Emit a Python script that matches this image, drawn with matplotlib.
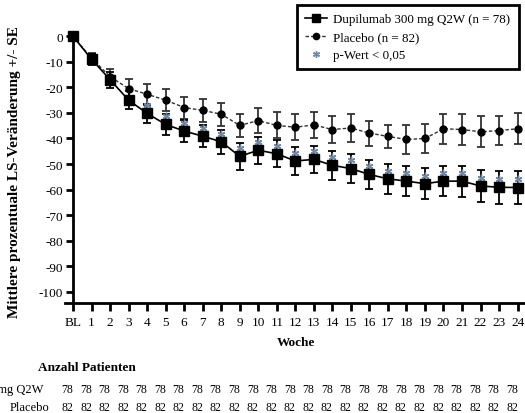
import matplotlib
matplotlib.use("Agg")
import matplotlib.pyplot as plt
from matplotlib.lines import Line2D

weeks = list(range(25))
week_labels = ["BL"] + [str(i) for i in range(1, 25)]

dupi_mean = [0, -9, -17, -25, -30.2, -34.5, -37.1, -39.1, -41.3, -47, -44.6,
             -46, -48.8, -48.2, -50.5, -51.8, -54.1, -55.8, -56.7, -57.7,
             -56.7, -56.7, -58.6, -59.1, -59.2]
dupi_se = [0, 2.2, 3.2, 3.6, 3.8, 4.0, 4.2, 4.4, 4.7, 5.2, 5.3,
           5.3, 5.5, 5.4, 5.6, 5.7, 5.8, 5.9, 6.0, 6.0,
           6.0, 6.1, 6.3, 6.4, 6.5]
plac_mean = [0, -8.6, -15.8, -20.5, -22.7, -25, -27.9, -29, -30.5, -34.9, -33,
             -34.9, -35.6, -34.7, -36.5, -35.9, -37.9, -39.2, -40.4, -40,
             -36.2, -36.5, -37.4, -36.9, -36.2]
plac_se = [0, 2.0, 3.0, 3.6, 4.1, 4.2, 4.3, 4.6, 4.5, 4.6, 5.0,
           5.1, 5.0, 5.1, 5.2, 5.3, 4.9, 4.6, 5.8, 5.8,
           5.9, 5.9, 6.0, 5.8, 6.0]
sig_weeks = list(range(4, 25))
n_dupi = [78] * 25
n_plac = [82] * 25

W, H = 525, 414
fig = plt.figure(figsize=(W / 100, H / 100), dpi=100)
plt.rcParams['font.family'] = ['Liberation Serif', 'DejaVu Serif']

def px(x, y):
    return (x / W, 1 - y / H)

x0 = -0.45
x1 = 24.4
ax = fig.add_axes([64.7 / W, 1 - 304 / H, 1 - 64.7 / W, (304 - 36.5) / H])
ax.set_xlim(x0, x1)
ax.set_ylim(-104.4, 0.3)

ax.errorbar(weeks, plac_mean, yerr=plac_se, fmt='none', ecolor='#333333',
            elinewidth=1.3, capsize=2.6, capthick=1.3, clip_on=False, zorder=2)
ax.plot(weeks, plac_mean, color='#333333', lw=1.0, ls=(0, (2.5, 1.5)), marker='o',
        ms=5, mfc='black', mec='black', clip_on=False, zorder=3)
ax.errorbar(weeks, dupi_mean, yerr=dupi_se, fmt='none', ecolor='black',
            elinewidth=1.3, capsize=2.6, capthick=1.3, clip_on=False, zorder=2)
sig_y = [dupi_mean[w] + 3.2 for w in sig_weeks]
ax.plot(sig_weeks, sig_y, ls='none', marker=(6, 2, 0), ms=5.5, mew=1.0,
        color='#7088a8', zorder=3)
ax.plot(weeks, dupi_mean, color='black', lw=1.2, marker='s', ms=6.8,
        mfc='black', mec='black', clip_on=False, zorder=4)

for s in ['top', 'right']:
    ax.spines[s].set_visible(False)
ax.spines['left'].set_position(('data', 0))
ax.spines['left'].set_linewidth(2)
ax.spines['bottom'].set_linewidth(2)

ax.set_xticks(weeks)
ax.set_xticklabels(week_labels, fontsize=9.5)
yt = list(range(0, -101, -10))
ax.set_yticks(yt)
ax.set_yticklabels([str(v) for v in yt], fontsize=9.5)
ax.tick_params(axis='x', direction='out', length=6, width=2, pad=3)
ax.tick_params(axis='y', direction='out', length=5, width=2, pad=2)

fig.text(*px(296, 343), "Woche", ha='center', va='center', fontsize=9.5,
         fontweight='bold')
fig.text(*px(15, 172), "Mittlere prozentuale LS-Veränderung +/- SE",
         rotation=90, ha='center', va='center', fontsize=11, fontweight='bold')
fig.text(*px(87, 368), "Anzahl Patienten", ha='center', va='center',
         fontsize=9.5, fontweight='bold')
fig.text(*px(43, 390), "Dupilumab 300 mg Q2W", ha='right', va='center',
         fontsize=9)
fig.text(*px(49, 408), "Placebo", ha='right', va='center', fontsize=9)

for w in weeks:
    xx = ax.transData.transform((w - 0.3, 0))[0]
    fig.text(xx / W, 1 - 390 / H, str(n_dupi[w]), ha='center', va='center',
             fontsize=8.5)
    fig.text(xx / W, 1 - 408 / H, str(n_plac[w]), ha='center', va='center',
             fontsize=8.5)

handles = [
    Line2D([], [], color='black', lw=1.2, marker='s', ms=6),
    Line2D([], [], color='#333333', lw=1.0, ls=(0, (2.5, 1.5)), marker='o', ms=4.5,
           mfc='black', mec='black'),
    Line2D([], [], ls='none', marker=(6, 2, 0), ms=5, mew=1.0, color='#7088a8'),
]
labels = ["Dupilumab 300 mg Q2W (n = 78)", "Placebo (n = 82)", "p-Wert < 0,05"]
leg = fig.legend(handles, labels, loc='upper left', bbox_to_anchor=px(297, 6),
                 bbox_transform=fig.transFigure, borderaxespad=0, fontsize=9.4,
                 fancybox=False, framealpha=1, edgecolor='black',
                 handlelength=1.7, handletextpad=0.47, labelspacing=0.45,
                 borderpad=0.62)
leg.get_frame().set_linewidth(2)

fig.savefig("out.png", dpi=100)
